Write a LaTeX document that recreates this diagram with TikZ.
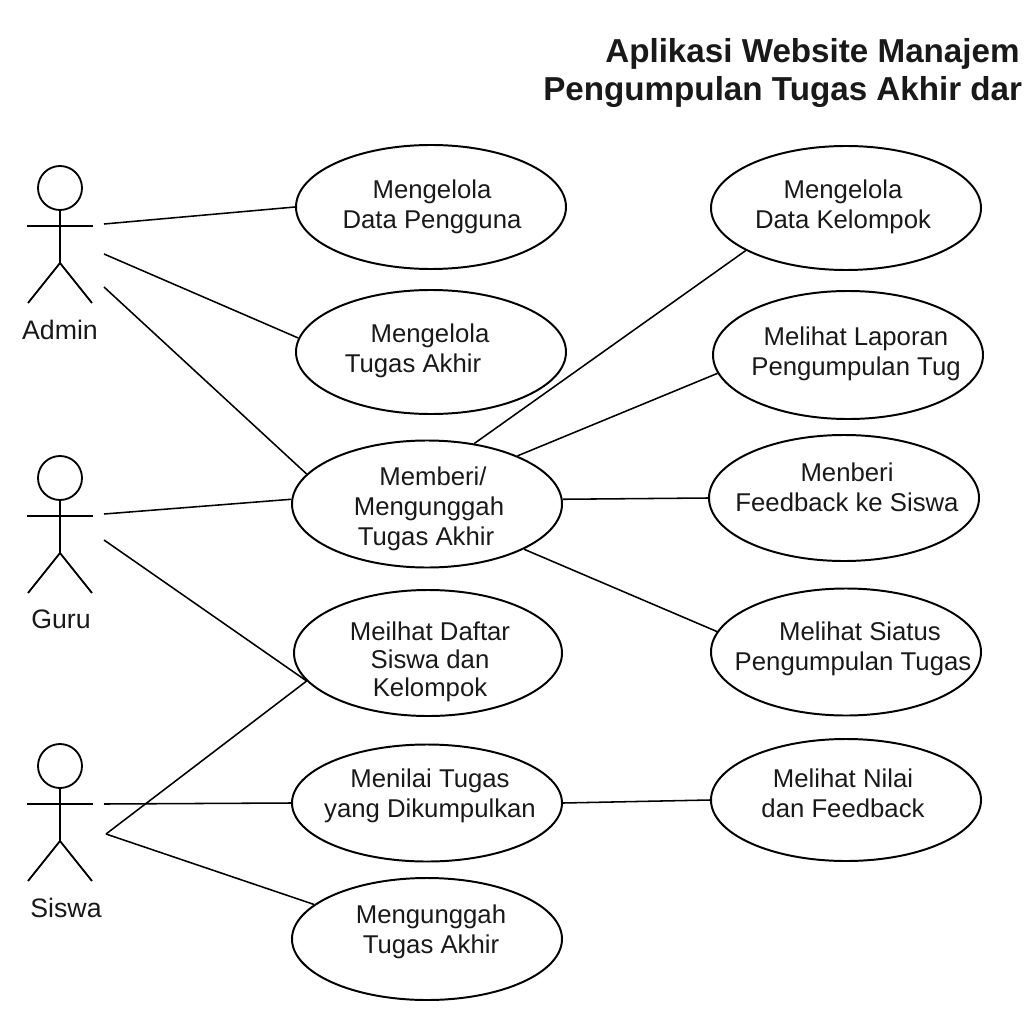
\documentclass[tikz,border=0pt]{standalone}
\usepackage{fontspec}
\setmainfont{Liberation Sans}
\usetikzlibrary{shapes.geometric}
\newdimen\pxu
\pxu=0.025cm
\tikzset{
  usecase/.style={ellipse,draw=black,line width=1.4pt,inner sep=0pt,align=center,minimum width=270\pxu,minimum height=124\pxu,font=\fontsize{18.3}{21.3}\selectfont,text=black!90},
  actorname/.style={font=\fontsize{19}{23}\selectfont,text=black!90},
  titleline/.style={anchor=west,inner sep=0pt,font=\fontsize{23.6}{28}\selectfont\bfseries,text=black!90},
  link/.style={line width=1.1pt},
  actorline/.style={line width=1.3pt}
}
\newcommand{\actorfig}[2]{% x, y of the head centre
  \draw[actorline] (#1,#2) circle (22);
  \draw[actorline] (#1,#2+22) -- (#1,#2+75);
  \draw[actorline] (#1-33,#2+38) -- (#1+33,#2+38);
  \draw[actorline] (#1-32,#2+115) -- (#1,#2+75) -- (#1+32,#2+115);
}
% text of a use case, moved dx, dy pixels off the centre of its ellipse
\newcommand{\uctext}[3]{%
  \raisebox{\dimexpr-#2\pxu-3\pxu-.25em\relax}[0pt][0pt]{\makebox[0pt][c]{\hspace*{\dimexpr 2\pxu*#1\relax}\begin{tabular}{@{}c@{}}#3\end{tabular}}}%
}
\begin{document}
\begin{tikzpicture}[x=0.025cm,y=-0.025cm]
  \useasboundingbox (0,0) rectangle (1024,1024);

  % title
  \node[titleline] (title1) at (605,54) {Aplikasi Website Manajem};
  \node[titleline] (title2) at (543,92) {Pengumpulan Tugas Akhir dar};

  % actors
  \actorfig{60}{188}
  \actorfig{60}{478}
  \actorfig{60}{766}
  \node[actorname] (Admin) at (60,330) {Admin};
  \node[actorname] (Guru) at (61,619) {Guru};
  \node[actorname] (Siswa) at (66,908) {Siswa};
  \coordinate (AdminA) at (104,224);
  \coordinate (AdminB) at (104,254);
  \coordinate (AdminC) at (104,287);
  \coordinate (GuruA) at (104,514);
  \coordinate (GuruB) at (104,540);
  \coordinate (SiswaA) at (104,804);
  \coordinate (SiswaB) at (106,834);

  % use cases, left column
  \node[usecase] (DataPengguna) at (431,207) {\uctext{1}{-3}{Mengelola\\Data Pengguna}};
  \node[usecase] (TugasAkhir) at (431,352) {\uctext{-1}{-4}{Mengelola\\\hspace*{-34\pxu}Tugas Akhir}};
  \node[usecase,minimum height=127\pxu] (Memberi) at (427,504) {\uctext{2}{2}{\hspace*{8\pxu}Memberi/\\Mengunggah\\\hspace*{-6\pxu}Tugas Akhir}};
  \node[usecase,minimum width=268\pxu,minimum height=126\pxu] (DaftarSiswa) at (428,653) {\uctext{2}{6}{Meilhat Daftar\\[-1.5pt]Siswa dan\\[-1.5pt]Kelompok}};
  \node[usecase,minimum height=117\pxu] (Menilai) at (427,803) {\uctext{3}{-10}{Menilai Tugas\\yang Dikumpulkan}};
  \node[usecase,minimum height=122\pxu] (Mengunggah) at (427,939) {\uctext{4}{-10}{Mengunggah\\Tugas Akhir}};

  % use cases, right column
  \node[usecase] (DataKelompok) at (846,208) {\uctext{-3}{-4}{Mengelola\\Data Kelompok}};
  \node[usecase,minimum height=128\pxu] (Laporan) at (848,355) {\uctext{8}{-3.5}{Melihat Laporan\\Pengumpulan Tug}};
  \node[usecase,minimum height=126\pxu] (Feedback) at (844,498) {\uctext{3}{-10.5}{Menberi\\Feedback ke Siswa}};
  \node[usecase,minimum height=127\pxu] (Status) at (846,652) {\uctext{7}{-5.5}{\hspace*{14\pxu}Melihat Siatus\\Pengumpulan Tugas}};
  \node[usecase,minimum height=122\pxu] (Nilai) at (846,800) {\uctext{-3}{-6.5}{Melihat Nilai\\dan Feedback}};

  % connectors
  \draw[link] (AdminA) -- (DataPengguna.180);
  \draw[link] (AdminB) -- (TugasAkhir.174);
  \draw[link] (AdminC) -- (Memberi.166);
  \draw[link] (GuruA) -- (Memberi.178);
  \draw[link] (GuruB) -- (DaftarSiswa.193);
  \draw[link] (SiswaA) -- (Menilai.west);
  \draw[link] (SiswaB) -- (DaftarSiswa.193);
  \draw[link] (SiswaB) -- (Mengunggah.163);
  \draw[link] (Memberi.52) -- (DataKelompok.203);
  \draw[link] (Memberi.28) -- (Laporan.188);
  \draw[link] (Memberi.2) -- (Feedback.west);
  \draw[link] (Memberi.335) -- (Status.171);
  \draw[link] (Menilai.east) -- (Nilai.west);
\end{tikzpicture}
\end{document}
